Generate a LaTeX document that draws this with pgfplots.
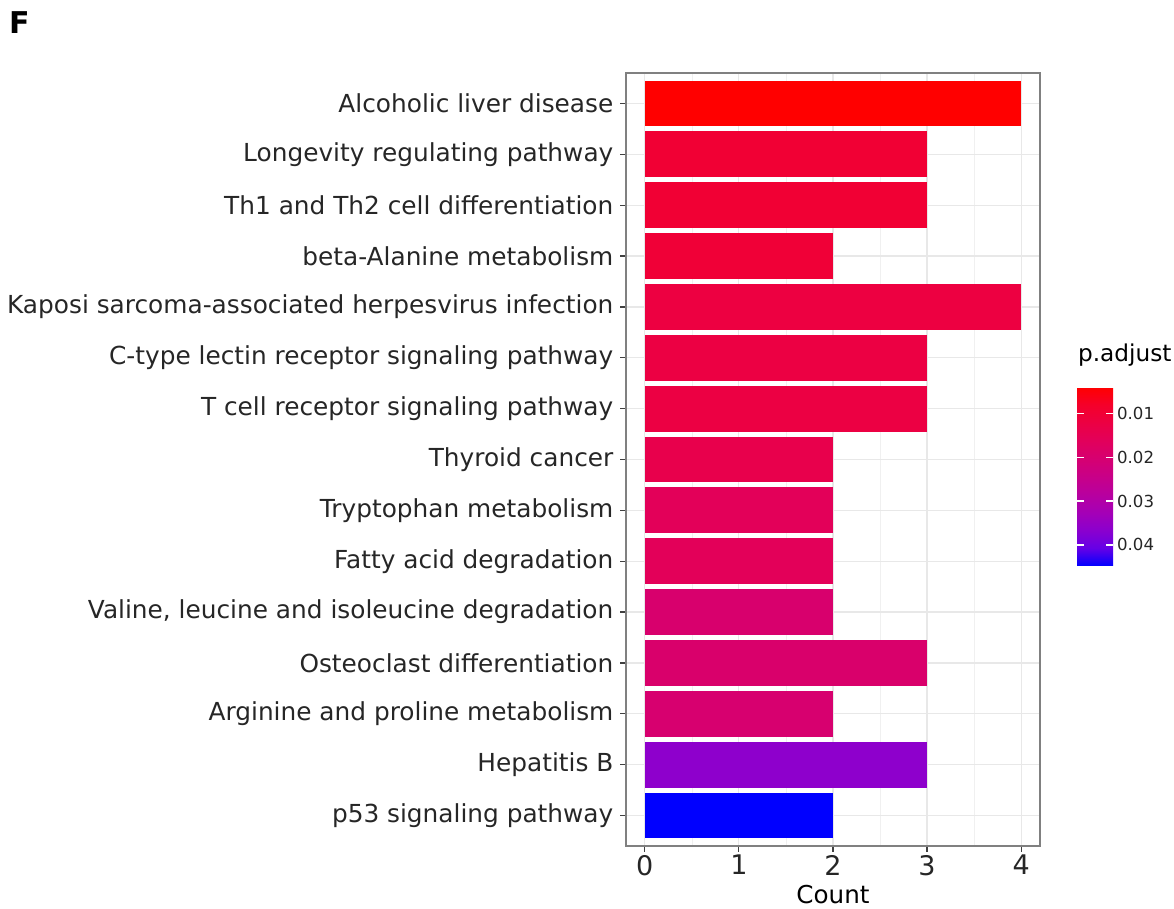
\documentclass[border=0pt]{standalone}
\usepackage{pgfplots}
\pgfplotsset{compat=1.18}
\usepackage{fontspec}
\setmainfont{DejaVu Sans}
\definecolor{c15}{RGB}{255,0,0}
\definecolor{c14}{RGB}{241,0,52}
\definecolor{c13}{RGB}{241,0,52}
\definecolor{c12}{RGB}{240,0,55}
\definecolor{c11}{RGB}{237,0,65}
\definecolor{c10}{RGB}{236,0,67}
\definecolor{c9}{RGB}{236,0,67}
\definecolor{c8}{RGB}{232,0,76}
\definecolor{c7}{RGB}{227,0,89}
\definecolor{c6}{RGB}{227,0,89}
\definecolor{c5}{RGB}{216,0,109}
\definecolor{c4}{RGB}{217,0,107}
\definecolor{c3}{RGB}{215,0,111}
\definecolor{c2}{RGB}{142,0,204}
\definecolor{c1}{RGB}{0,0,255}
\begin{document}
\begin{tikzpicture}
\path[use as bounding box] (-313pt,-31.5pt) rectangle (274pt,423pt);
\node[anchor=west,font=\bfseries\fontsize{15}{15}\selectfont] at (-312pt,411.5pt) {F};
\begin{axis}[
  at={(0,0)}, anchor=south west,
  scale only axis, width=207pt, height=386.5pt,
  xmin=-0.2, xmax=4.2, ymin=0.4, ymax=15.6,
  xtick={0,1,2,3,4},
  xticklabels={0,1,2,3,4},
  minor x tick num=1,
  ytick={1,...,15},
  yticklabels={p53 signaling pathway,Hepatitis B,Arginine and proline metabolism,Osteoclast differentiation,{Valine, leucine and isoleucine degradation},Fatty acid degradation,Tryptophan metabolism,Thyroid cancer,T cell receptor signaling pathway,C-type lectin receptor signaling pathway,Kaposi sarcoma-associated herpesvirus infection,beta-Alanine metabolism,Th1 and Th2 cell differentiation,Longevity regulating pathway,Alcoholic liver disease},
  grid=both,
  major grid style={black!9, line width=0.6pt},
  minor grid style={black!6, line width=0.35pt},
  axis line style={black!50, line width=0.6pt},
  tick align=outside,
  major tick length=2.8pt, minor tick length=0pt,
  tick style={black!75, line width=0.6pt},
  yticklabel style={font=\fontsize{12.4}{13}\selectfont, text=black!85},
  xticklabel style={font=\fontsize{13.5}{14}\selectfont, text=black!85, inner sep=1.5pt},
  xlabel={Count},
  xlabel style={font=\fontsize{12.3}{13}\selectfont, at={(axis description cs:0.5,0)}, anchor=center, yshift=-24.5pt},
  tick pos=left,
  colormap={rb}{rgb255=(0,0,255) rgb255=(102,0,230) rgb255=(139,0,206) rgb255=(165,0,182) rgb255=(184,0,159) rgb255=(200,0,136) rgb255=(214,0,113) rgb255=(226,0,91) rgb255=(236,0,67) rgb255=(245,0,42) rgb255=(255,0,0)},
  point meta min=-0.0448, point meta max=-0.0040,
  colorbar,
  colorbar/width=18pt,
  colorbar style={
    at={(parent axis.south east)}, anchor=south west,
    xshift=10pt, yshift=140pt,
    height=89.5pt,
    scaled y ticks=false,
    ytick={-0.04,-0.03,-0.02,-0.01},
    yticklabels={0.04,0.03,0.02,0.01},
    yticklabel pos=right,
    major tick length=0pt,
    axis line style={draw=none},
    yticklabel style={font=\fontsize{8.3}{9}\selectfont, text=black!85, xshift=-1.5pt},
    title={p.adjust},
    title style={font=\fontsize{11.6}{12}\selectfont, anchor=south west, at={(0,1)}, xshift=-3pt, yshift=1pt},
    after end axis/.code={
      \foreach \v in {-0.04,-0.03,-0.02,-0.01}{
        \draw[white, line width=0.6pt] ({rel axis cs:0,0} |- {axis cs:0,\v}) -- ++(3.5pt,0);
        \draw[white, line width=0.6pt] ({rel axis cs:1,0} |- {axis cs:0,\v}) -- ++(-3.5pt,0);
      }
    },
  },
]
\addplot[xbar, bar width=0.9, draw=none, fill=c1] coordinates {(2,1)};
\addplot[xbar, bar width=0.9, draw=none, fill=c2] coordinates {(3,2)};
\addplot[xbar, bar width=0.9, draw=none, fill=c3] coordinates {(2,3)};
\addplot[xbar, bar width=0.9, draw=none, fill=c4] coordinates {(3,4)};
\addplot[xbar, bar width=0.9, draw=none, fill=c5] coordinates {(2,5)};
\addplot[xbar, bar width=0.9, draw=none, fill=c6] coordinates {(2,6)};
\addplot[xbar, bar width=0.9, draw=none, fill=c7] coordinates {(2,7)};
\addplot[xbar, bar width=0.9, draw=none, fill=c8] coordinates {(2,8)};
\addplot[xbar, bar width=0.9, draw=none, fill=c9] coordinates {(3,9)};
\addplot[xbar, bar width=0.9, draw=none, fill=c10] coordinates {(3,10)};
\addplot[xbar, bar width=0.9, draw=none, fill=c11] coordinates {(4,11)};
\addplot[xbar, bar width=0.9, draw=none, fill=c12] coordinates {(2,12)};
\addplot[xbar, bar width=0.9, draw=none, fill=c13] coordinates {(3,13)};
\addplot[xbar, bar width=0.9, draw=none, fill=c14] coordinates {(3,14)};
\addplot[xbar, bar width=0.9, draw=none, fill=c15] coordinates {(4,15)};
\end{axis}
\end{tikzpicture}
\end{document}
